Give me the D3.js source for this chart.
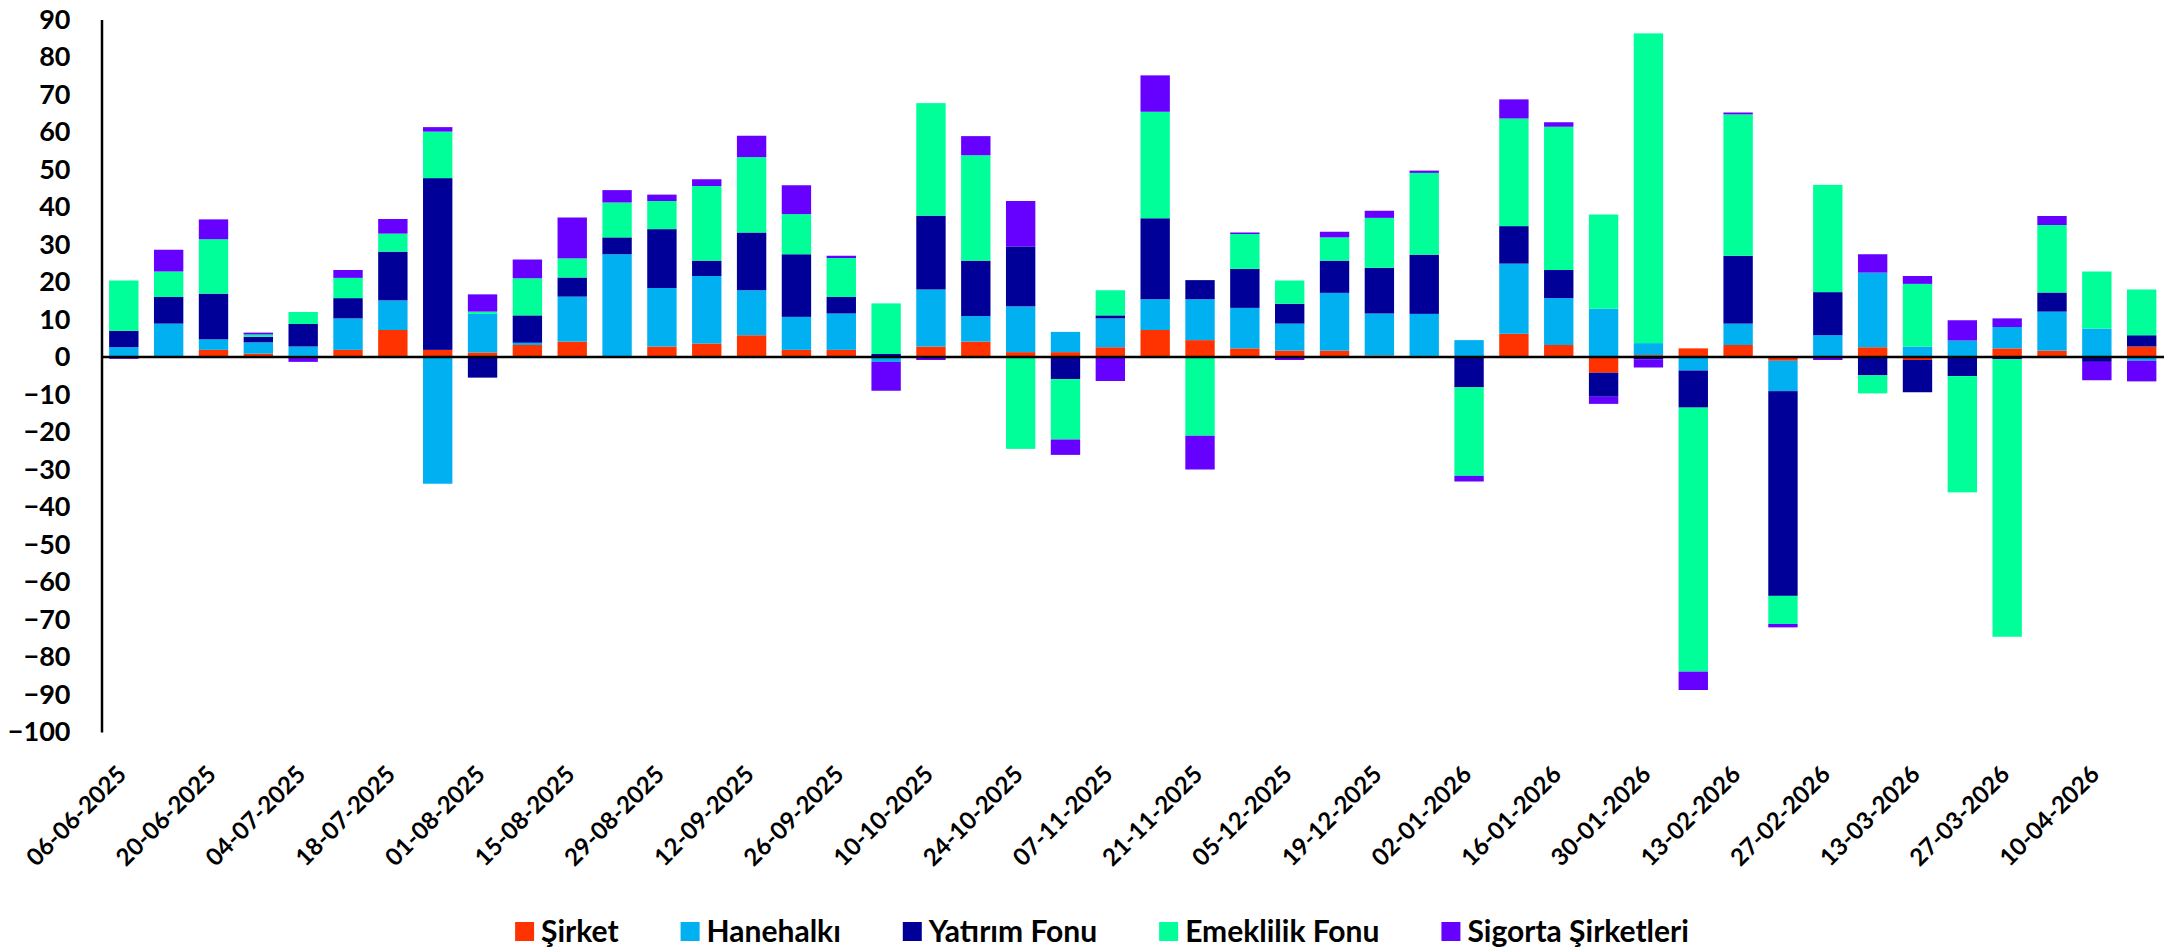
<!DOCTYPE html>
<html>
<head>
<meta charset="utf-8">
<script src="https://cdn.jsdelivr.net/npm/d3@7"></script>
<style>
  body { margin: 0; background: #fff; }
  text { font-family: Lato, "Open Sans", sans-serif; font-weight: bold; fill: #000; }
</style>
</head>
<body>
<svg id="chart" width="2175" height="947"></svg>
<script>
// weekly dates (every second one is labelled)
var dates = ["06-06-2025","13-06-2025","20-06-2025","27-06-2025","04-07-2025","11-07-2025","18-07-2025","25-07-2025",
  "01-08-2025","08-08-2025","15-08-2025","22-08-2025","29-08-2025","05-09-2025","12-09-2025","19-09-2025",
  "26-09-2025","03-10-2025","10-10-2025","17-10-2025","24-10-2025","31-10-2025","07-11-2025","14-11-2025",
  "21-11-2025","28-11-2025","05-12-2025","12-12-2025","19-12-2025","26-12-2025","02-01-2026","09-01-2026",
  "16-01-2026","23-01-2026","30-01-2026","06-02-2026","13-02-2026","20-02-2026","27-02-2026","06-03-2026",
  "13-03-2026","20-03-2026","27-03-2026","03-04-2026","10-04-2026","17-04-2026"];

var sirket    = [0, 0, 1.9, 0.9, 0.3, 1.9, 7.2, 1.9, 1.2, 3.2, 4.1, 0, 2.8, 3.6, 5.8, 1.9, 1.9, 0, 2.8, 4.1,
  1.3, 1.3, 2.6, 7.2, 4.5, 2.3, 1.7, 1.7, 0.4, 0.3, 0, 6.2, 3.2, -4.2, 0.5, 2.3, 3.2, -1.0, 0, 2.6,
  -0.8, 0, 2.3, 1.7, 0, 2.8];
var hanehalki = [2.6, 8.9, 2.8, 3.0, 2.5, 8.4, 7.9, -33.8, 10.3, 0.6, 12.0, 27.4, 15.6, 18.0, 12.0, 8.8, 9.7, -1.3, 15.2, 6.8,
  12.2, 5.4, 7.7, 8.2, 10.9, 10.8, 7.2, 15.4, 11.2, 11.2, 4.5, 18.7, 12.5, 12.9, 3.2, -3.6, 5.7, -8.1, 5.8, 19.9,
  2.8, 4.4, 5.7, 10.4, 7.6, -1.0];
var yatirim   = [4.4, 7.1, 12.2, 1.5, 6.0, 5.4, 13.0, 45.8, -5.5, 7.3, 5.1, 4.5, 15.7, 4.1, 15.4, 16.7, 4.4, 0.8, 19.7, 14.8,
  16.0, -5.9, 0.8, 21.6, 5.1, 10.4, 5.3, 8.6, 12.2, 15.8, -8.1, 10.0, 7.5, -6.4, -0.6, -9.9, 18.1, -54.6, 11.5, -4.9,
  -8.6, -5.1, -0.6, 5.1, -1.3, 3.0];
var emeklilik = [13.4, 6.8, 14.5, 0.6, 3.2, 5.4, 4.8, 12.4, 0.6, 9.9, 5.1, 9.3, 7.5, 19.9, 20.1, 10.7, 10.4, 13.5, 30.0, 28.1,
  -24.5, -16.1, 6.7, 28.4, -21.0, 9.3, 6.2, 6.2, 13.3, 21.8, -23.6, 28.7, 38.2, 25.1, 82.6, -70.4, 37.7, -7.5, 28.6, -4.8,
  16.7, -31.0, -74.0, 18.0, 15.2, 12.2];
var sigorta   = [-0.5, 5.8, 5.3, 0.5, -1.3, 2.1, 3.9, 1.2, 4.6, 5.0, 10.9, 3.3, 1.7, 1.8, 5.7, 7.7, 0.6, -7.7, -0.8, 5.1,
  12.1, -4.1, -6.4, 9.7, -9.0, 0.4, -0.8, 1.5, 1.9, 0.6, -1.5, 5.1, 1.2, -1.9, -2.2, -4.9, 0.5, -0.9, -0.8, 4.9,
  2.1, 5.4, 2.3, 2.4, -4.9, -5.5];

var seriesNames = ["Şirket", "Hanehalkı", "Yatırım Fonu", "Emeklilik Fonu", "Sigorta Şirketleri"];
var seriesColors = ["#FF3300", "#00B0F0", "#000099", "#00FF99", "#6600FF"];
var yTicks = [90, 80, 70, 60, 50, 40, 30, 20, 10, 0, -10, -20, -30, -40, -50, -60, -70, -80, -90, -100];

// chart area
var plotLeft = 101.5, plotRight = 2164, plotTop = 19.5, plotBottom = 732;
var svg = d3.select("#chart");

// build rows for the stack
var rows = dates.map(function(d, i) {
  return { date: d, "Şirket": sirket[i], "Hanehalkı": hanehalki[i], "Yatırım Fonu": yatirim[i],
           "Emeklilik Fonu": emeklilik[i], "Sigorta Şirketleri": sigorta[i] };
});
var stacked = d3.stack().keys(seriesNames).offset(d3.stackOffsetDiverging)(rows);

var x = d3.scaleBand().domain(dates).range([plotLeft, plotRight]).paddingInner(0.345).paddingOuter(0.17);
var y = d3.scaleLinear().domain([-100, 90]).range([plotBottom, plotTop]);
var color = d3.scaleOrdinal().domain(seriesNames).range(seriesColors);

// bars
svg.append("g").selectAll("g")
  .data(stacked)
  .enter().append("g")
    .attr("fill", function(s) { return color(s.key); })
  .selectAll("rect")
  .data(function(s) { return s; })
  .enter().append("rect")
    .attr("x", function(d) { return x(d.data.date); })
    .attr("y", function(d) { return y(Math.max(d[0], d[1])); })
    .attr("width", x.bandwidth())
    .attr("height", function(d) { return Math.abs(y(d[0]) - y(d[1])); });

// y axis
var yAxis = svg.append("g")
  .attr("transform", "translate(" + plotLeft + ",0)")
  .call(d3.axisLeft(y).tickValues(yTicks).tickSize(0).tickSizeOuter(0).tickPadding(31));
yAxis.select(".domain").attr("stroke", "#000").attr("stroke-width", 2.5);
yAxis.selectAll("text").style("font-size", "27px").style("font-family", "Lato, sans-serif");

// zero line
svg.append("line")
  .attr("x1", plotLeft).attr("x2", plotRight)
  .attr("y1", y(0)).attr("y2", y(0))
  .attr("stroke", "#000").attr("stroke-width", 2.5);

// date labels at the bottom, every second week
var xAxis = svg.append("g")
  .attr("transform", "translate(0," + plotBottom + ")")
  .call(d3.axisBottom(x).tickValues(dates.filter(function(d, i) { return i % 2 === 0; })).tickSize(0));
xAxis.select(".domain").remove();
xAxis.selectAll("text")
  .attr("y", 0).attr("dy", 0)
  .attr("transform", "translate(4,44) rotate(-45)")
  .style("text-anchor", "end")
  .style("font-size", "24px")
  .style("font-family", "Lato, sans-serif");

// legend
var legend = svg.append("g");
var items = legend.selectAll("g").data(seriesNames).enter().append("g");
items.append("rect").attr("width", 19).attr("height", 19).attr("y", 922)
  .attr("fill", function(d) { return color(d); });
items.append("text").attr("x", 26).attr("y", 942).style("font-size", "30px").text(function(d) { return d; });
var pos = 0, gap = 62;
items.each(function() {
  var w = 26 + d3.select(this).select("text").node().getComputedTextLength();
  d3.select(this).attr("transform", "translate(" + pos + ",0)");
  pos += w + gap;
});
var total = pos - gap;
legend.attr("transform", "translate(" + (1102 - total / 2) + ",0)");
</script>
</body>
</html>
